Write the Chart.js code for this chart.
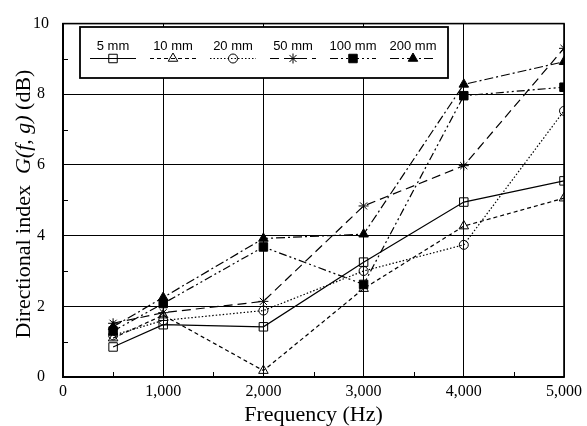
<!DOCTYPE html>
<html>
<head>
<meta charset="utf-8">
<script src="https://cdn.jsdelivr.net/npm/chart.js@4/dist/chart.umd.min.js"></script>
<style>
  html, body { margin: 0; padding: 0; background: #fff; }
  #wrap { width: 587px; height: 426px; }
</style>
</head>
<body>
<div id="wrap"><canvas id="chartDir"></canvas></div>
<script>
/* ── data ── */
const frequencies = [500, 1000, 2000, 3000, 4000, 5000];
const seriesNames = ['5 mm', '10 mm', '20 mm', '50 mm', '100 mm', '200 mm'];
const g5mm   = [0.85, 1.48, 1.42, 3.25, 4.95, 5.55];
const g10mm  = [1.10, 1.75, 0.18, 2.50, 4.27, 5.06];
const g20mm  = [1.18, 1.60, 1.88, 3.00, 3.74, 7.53];
const g50mm  = [1.52, 1.82, 2.14, 4.84, 5.98, 9.30];
const g100mm = [1.30, 2.08, 3.68, 2.62, 7.96, 8.20];
const g200mm = [1.42, 2.25, 3.92, 4.04, 8.28, 8.92];
const xMinorTicks = [500, 1500, 2500, 3500, 4500];
const yMinorTicks = [1, 3, 5, 7, 9];

const SERIF = '"Liberation Serif", "Times New Roman", serif';
const SANS = '"Liberation Sans", Arial, sans-serif';

// marker / dash look for each series
const looks = [
    { dash: [],                   style: 'rect',     radius: 6,   fill: 'rgba(0,0,0,0)' },
    { dash: [4, 3],               style: 'triangle', radius: 5.5, fill: 'rgba(0,0,0,0)' },
    { dash: [1.5, 2],             style: 'circle',   radius: 4.5, fill: 'rgba(0,0,0,0)' },
    { dash: [9, 5],               style: 'star',     radius: 5,   fill: 'rgba(0,0,0,0)' },
    { dash: [8, 3, 2, 3, 2, 3],   style: 'rect',     radius: 6,   fill: '#000' },
    { dash: [9, 3, 2, 3],         style: 'triangle', radius: 5.5, fill: '#000' }
];
const seriesValues = [g5mm, g10mm, g20mm, g50mm, g100mm, g200mm];

function toPoints(values) {
    return frequencies.map((f, i) => ({ x: f, y: values[i] }));
}

/**
 * Frame, inward minor ticks, legend box and axis titles
 */
const decorPlugin = {
    id: 'decor',
    beforeDatasetsDraw(chart) {
        const { ctx, chartArea: a, scales } = chart;
        ctx.save();
        ctx.strokeStyle = '#000';
        ctx.lineWidth = 1;
        ctx.beginPath();
        xMinorTicks.forEach(v => {
            const px = Math.round(scales.x.getPixelForValue(v)) + 0.5;
            ctx.moveTo(px, a.bottom);
            ctx.lineTo(px, a.bottom - 5);
        });
        yMinorTicks.forEach(v => {
            const py = Math.round(scales.y.getPixelForValue(v)) + 0.5;
            ctx.moveTo(a.left, py);
            ctx.lineTo(a.left + 5, py);
        });
        ctx.stroke();
        ctx.lineWidth = 1.6;
        ctx.strokeRect(a.left, a.top, a.right - a.left, a.bottom - a.top);
        ctx.restore();
    },
    afterDatasetsDraw(chart) {
        const { ctx, chartArea: a } = chart;
        ctx.save();

        // legend box
        const bx = 80, by = 27, bw = 368, bh = 51;
        ctx.fillStyle = '#fff';
        ctx.fillRect(bx, by, bw, bh);
        ctx.strokeStyle = '#000';
        ctx.lineWidth = 1.8;
        ctx.strokeRect(bx, by, bw, bh);

        chart.data.datasets.forEach((ds, i) => {
            const cx = 113 + 60 * i;
            ctx.fillStyle = '#000';
            ctx.font = '13px ' + SANS;
            ctx.textAlign = 'center';
            ctx.textBaseline = 'alphabetic';
            ctx.fillText(ds.label, cx, 50);

            ctx.strokeStyle = '#000';
            ctx.beginPath();
            ctx.setLineDash(ds.borderDash);
            ctx.lineWidth = 1.2;
            ctx.moveTo(cx - 23, 58.5);
            ctx.lineTo(cx + 23, 58.5);
            ctx.stroke();
            ctx.setLineDash([]);
            ctx.lineWidth = 1;
            ctx.fillStyle = ds.pointBackgroundColor;
            Chart.helpers.drawPoint(ctx, {
                pointStyle: ds.pointStyle,
                radius: ds.pointRadius,
                borderWidth: 1,
                rotation: 0
            }, cx, 58.5);
        });

        // x title
        ctx.fillStyle = '#000';
        ctx.textAlign = 'center';
        ctx.textBaseline = 'alphabetic';
        ctx.font = '22px ' + SERIF;
        ctx.fillText('Frequency (Hz)', (a.left + a.right) / 2, 421);

        // y title with italic G(f, g)
        const parts = [
            { t: 'Directional index  ', f: '22px ' + SERIF },
            { t: 'G(f, g)', f: 'italic 22px ' + SERIF },
            { t: ' (dB)', f: '22px ' + SERIF }
        ];
        let total = 0;
        parts.forEach(p => { ctx.font = p.f; p.w = ctx.measureText(p.t).width; total += p.w; });
        ctx.translate(24, 204);
        ctx.rotate(-Math.PI / 2);
        ctx.textAlign = 'left';
        ctx.textBaseline = 'middle';
        let pos = -total / 2;
        parts.forEach(p => { ctx.font = p.f; ctx.fillText(p.t, pos, 0); pos += p.w; });
        ctx.restore();
    }
};

function initDirChart() {
    const ctx = document.getElementById('chartDir');

    const datasets = seriesValues.map((vals, i) => ({
        label: seriesNames[i],
        data: toPoints(vals),
        borderColor: '#000',
        borderWidth: 1.2,
        borderDash: looks[i].dash,
        pointStyle: looks[i].style,
        pointRadius: looks[i].radius,
        pointBorderWidth: 1,
        pointBorderColor: '#000',
        pointBackgroundColor: looks[i].fill,
        tension: 0,
        fill: false
    }));

    new Chart(ctx, {
        type: 'line',
        data: { datasets: datasets },
        options: {
            responsive: true,
            maintainAspectRatio: false,
            animation: false,
            layout: { padding: { top: 18, right: 19, left: 0, bottom: 0 } },
            plugins: {
                legend: { display: false },
                tooltip: { enabled: false }
            },
            scales: {
                x: {
                    type: 'linear',
                    min: 0,
                    max: 5000,
                    afterFit: s => { s.height = 49; },
                    grid: { color: '#000', lineWidth: 1, drawTicks: false },
                    border: { color: '#000', width: 1.5 },
                    ticks: {
                        stepSize: 1000,
                        padding: 5,
                        color: '#000',
                        font: { family: SERIF, size: 16 },
                        callback: v => v.toLocaleString('en-US')
                    }
                },
                y: {
                    min: 0,
                    max: 10,
                    afterFit: s => { s.width = 63; },
                    grid: { color: '#000', lineWidth: 1, drawTicks: false },
                    border: { color: '#000', width: 1.5 },
                    ticks: {
                        stepSize: 2,
                        padding: 14,
                        crossAlign: 'center',
                        color: '#000',
                        font: { family: SERIF, size: 16 }
                    }
                }
            }
        },
        plugins: [decorPlugin]
    });
}

initDirChart();
</script>
</body>
</html>
